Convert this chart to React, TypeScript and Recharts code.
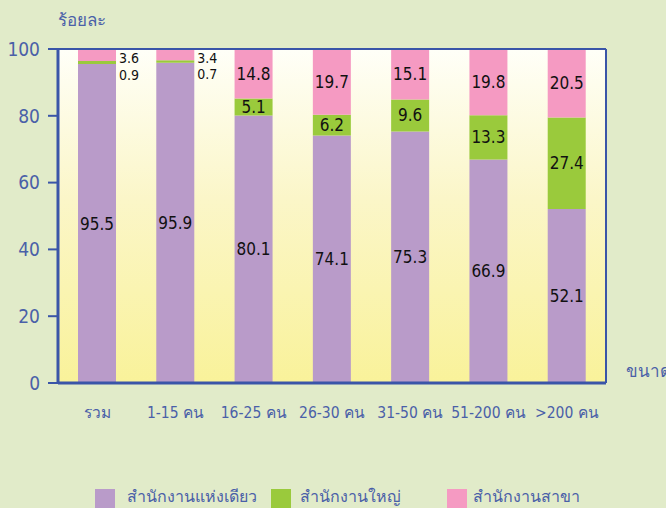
import React from "react";
import {
  BarChart,
  Bar,
  XAxis,
  YAxis,
  CartesianGrid,
  ReferenceLine,
  LabelList,
} from "recharts";

const categories = ["รวม", "1-15 คน", "16-25 คน", "26-30 คน", "31-50 คน", "51-200 คน", ">200 คน"];
const singleOffice = [95.5, 95.9, 80.1, 74.1, 75.3, 66.9, 52.1];
const headOffice = [0.9, 0.7, 5.1, 6.2, 9.6, 13.3, 27.4];
const branchOffice = [3.6, 3.4, 14.8, 19.7, 15.1, 19.8, 20.5];
const yTicks = [0, 20, 40, 60, 80, 100];
const seriesNames = ["สำนักงานแห่งเดียว", "สำนักงานใหญ่", "สำนักงานสาขา"];

const data = categories.map((c, i) => ({
  name: c,
  single: singleOffice[i],
  head: headOffice[i],
  branch: branchOffice[i],
}));

const PURPLE = "#b99bc9";
const GREEN = "#9aca3c";
const PINK = "#f59ac2";
const BLUE = "#3a55a8";
const TEXT_BLUE = "#4a60a8";
const LABEL_FONT = "'DejaVu Sans Condensed', 'DejaVu Sans', sans-serif";

const makeLabel = (outsideOffset: number) => (props: any) => {
  const { x, y, width, height, value } = props;
  const v = Number(value);
  if (v < 4) {
    return (
      <text
        x={x + width + 3}
        y={y + height / 2 + outsideOffset}
        textAnchor="start"
        dominantBaseline="central"
        fontFamily={LABEL_FONT}
        fontSize={14}
        fill="#111"
      >
        {v.toFixed(1)}
      </text>
    );
  }
  return (
    <text
      x={x + width / 2}
      y={y + height / 2}
      textAnchor="middle"
      dominantBaseline="central"
      fontFamily={LABEL_FONT}
      fontSize={17}
      fill="#111"
    >
      {v.toFixed(1)}
    </text>
  );
};

export default function App() {
  return (
    <div
      style={{
        position: "absolute",
        left: 0,
        top: 0,
        width: 666,
        height: 508,
        background: "#e1ebc9",
        overflow: "hidden",
        fontFamily: "'DejaVu Sans', sans-serif",
      }}
    >
      <div
        style={{
          position: "absolute",
          left: 58,
          top: 49,
          width: 548,
          height: 334,
          background: "linear-gradient(to bottom, #fffff8 0%, #fbf6c8 45%, #f9f29a 100%)",
        }}
      />
      <div
        style={{
          position: "absolute",
          left: 58,
          top: 8,
          fontSize: 17,
          color: TEXT_BLUE,
          lineHeight: "24px",
        }}
      >
        ร้อยละ
      </div>
      <div
        style={{
          position: "absolute",
          left: 626,
          top: 359,
          fontSize: 17,
          color: TEXT_BLUE,
          whiteSpace: "nowrap",
          lineHeight: "24px",
        }}
      >
        ขนาด
      </div>
      <div style={{ position: "absolute", left: 0, top: 0 }}>
        <BarChart
          width={666}
          height={508}
          data={data}
          margin={{ top: 49, right: 59, left: 0, bottom: 85 }}
          barSize={38}
        >
          <CartesianGrid
            vertical={false}
            stroke="#6a7ec4"
            strokeDasharray="3 3"
            strokeWidth={1}
          />
          <XAxis
            dataKey="name"
            height={40}
            axisLine={{ stroke: BLUE, strokeWidth: 3 }}
            tickLine={false}
            tickMargin={18}
            interval={0}
            tick={{ fill: TEXT_BLUE, fontSize: 15.5, fontFamily: LABEL_FONT }}
          />
          <YAxis
            yAxisId="left"
            width={58}
            domain={[0, 100]}
            ticks={yTicks}
            axisLine={{ stroke: BLUE, strokeWidth: 3 }}
            tickLine={{ stroke: BLUE, strokeWidth: 2 }}
            tickSize={10}
            tickMargin={8}
            tick={{ fill: TEXT_BLUE, fontSize: 19, fontFamily: LABEL_FONT }}
          />
          <YAxis
            yAxisId="right"
            orientation="right"
            width={1}
            domain={[0, 100]}
            ticks={yTicks}
            axisLine={{ stroke: BLUE, strokeWidth: 2 }}
            tickLine={false}
            tick={false}
          />
          <ReferenceLine yAxisId="left" y={100} stroke={BLUE} strokeWidth={2} />
          <Bar yAxisId="left" dataKey="single" stackId="a" fill={PURPLE} isAnimationActive={false} name={seriesNames[0]}>
            <LabelList dataKey="single" content={makeLabel(0)} />
          </Bar>
          <Bar yAxisId="left" dataKey="head" stackId="a" fill={GREEN} isAnimationActive={false} name={seriesNames[1]}>
            <LabelList dataKey="head" content={makeLabel(12)} />
          </Bar>
          <Bar yAxisId="left" dataKey="branch" stackId="a" fill={PINK} isAnimationActive={false} name={seriesNames[2]}>
            <LabelList dataKey="branch" content={makeLabel(3)} />
          </Bar>
        </BarChart>
      </div>
      {[
        { color: PURPLE, left: 95, textLeft: 127 },
        { color: GREEN, left: 271, textLeft: 300 },
        { color: PINK, left: 447, textLeft: 473 },
      ].map((l, i) => (
        <React.Fragment key={i}>
          <div
            style={{
              position: "absolute",
              left: l.left,
              top: 489,
              width: 20,
              height: 20,
              background: l.color,
            }}
          />
          <div
            style={{
              position: "absolute",
              left: l.textLeft,
              top: 485,
              fontSize: 16,
              color: TEXT_BLUE,
              whiteSpace: "nowrap",
              lineHeight: "24px",
            }}
          >
            {seriesNames[i]}
          </div>
        </React.Fragment>
      ))}
    </div>
  );
}
